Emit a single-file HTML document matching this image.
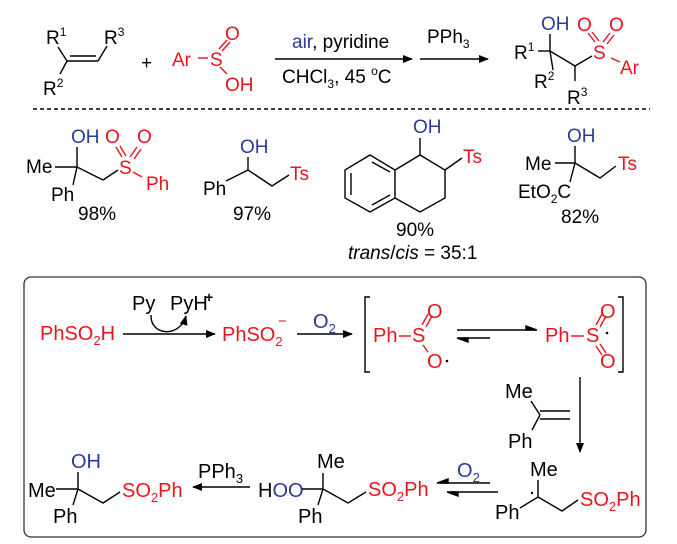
<!DOCTYPE html>
<html><head><meta charset="utf-8"><style>
html,body{margin:0;padding:0;background:#fff;width:677px;height:544px;overflow:hidden}
svg{display:block}
text{font-family:"Liberation Sans",Arial,sans-serif;font-size:19px;fill:#000}
.m text{font-size:20px}
.r{fill:#e8141e}.b{fill:#2b3a9c}
.s{font-size:12px}
.m .s{font-size:13px}
line,path,polyline{stroke:#000;stroke-width:1.4;fill:none}
.rl{stroke:#e8141e}
</style></head><body>
<svg width="677" height="544" viewBox="0 0 677 544" xmlns="http://www.w3.org/2000/svg">
<defs><marker id="ah" markerWidth="10" markerHeight="8" refX="9" refY="4" orient="auto" markerUnits="userSpaceOnUse"><path d="M0,0 L10,4 L0,8 z" style="fill:#000;stroke:none"/></marker></defs>

<!-- top reaction -->
<text x="46" y="44">R<tspan class="s" dy="-8">1</tspan></text>
<text x="104" y="44">R<tspan class="s" dy="-8">3</tspan></text>
<text x="43" y="95">R<tspan class="s" dy="-8">2</tspan></text>
<line x1="58" y1="47" x2="67" y2="61"/><line x1="67" y1="61" x2="98" y2="61"/><line x1="70" y1="56" x2="96" y2="56"/>
<line x1="98" y1="61" x2="107" y2="46"/><line x1="67" y1="61" x2="60" y2="74"/>
<text x="141" y="69">+</text>
<text class="r" x="172" y="66">Ar</text><line class="rl" x1="198" y1="58" x2="208" y2="58"/>
<text class="r" x="210" y="66">S</text>
<line class="rl" x1="219" y1="49" x2="227" y2="40"/><line class="rl" x1="222" y1="51" x2="230" y2="42"/>
<text class="r" x="225" y="40">O</text>
<line class="rl" x1="220" y1="67" x2="227" y2="74"/>
<text class="r" x="225" y="91">OH</text>
<line x1="275" y1="59" x2="412" y2="59" marker-end="url(#ah)"/>
<text x="292" y="48"><tspan class="b">air</tspan>, pyridine</text>
<text x="282" y="83">CHCl<tspan class="s" dy="5">3</tspan><tspan dy="-5">, 45 </tspan><tspan class="s" dy="-8">o</tspan><tspan dy="8">C</tspan></text>
<line x1="420" y1="59" x2="488" y2="59" marker-end="url(#ah)"/>
<text x="427" y="43">PPh<tspan class="s" dy="5">3</tspan></text>
<text class="b" x="541" y="30">OH</text>
<text class="r" x="577" y="31">O</text><text class="r" x="609" y="31">O</text>
<text x="514" y="59">R<tspan class="s" dy="-8">1</tspan></text>
<line x1="550" y1="34" x2="550" y2="51"/><line x1="538" y1="51" x2="550" y2="51"/>
<line x1="550" y1="51" x2="575" y2="66"/><line x1="575" y1="66" x2="592" y2="56"/>
<line x1="575" y1="66" x2="575" y2="81"/><line x1="550" y1="51" x2="553" y2="70"/>
<text class="r" x="593" y="59">S</text>
<line class="rl" x1="595" y1="42" x2="588" y2="33"/><line class="rl" x1="599" y1="41" x2="592" y2="32"/>
<line class="rl" x1="603" y1="42" x2="610" y2="33"/><line class="rl" x1="607" y1="44" x2="614" y2="35"/>
<line class="rl" x1="611" y1="58" x2="620" y2="62"/>
<text class="r" x="620" y="74">Ar</text>
<text x="534" y="88">R<tspan class="s" dy="-8">2</tspan></text>
<text x="567" y="104">R<tspan class="s" dy="-8">3</tspan></text>
<line x1="33" y1="109" x2="650" y2="109" stroke-dasharray="4,3"/>

<!-- examples -->
<text class="b" x="71" y="143">OH</text>
<text class="r" x="105" y="143">O</text><text class="r" x="137" y="143">O</text>
<text x="26" y="173">Me</text><text x="51" y="201">Ph</text>
<line x1="55" y1="167" x2="77" y2="167"/><line x1="77" y1="147" x2="77" y2="167"/><line x1="77" y1="167" x2="73" y2="185"/>
<line x1="77" y1="167" x2="103" y2="180"/><line x1="103" y1="180" x2="118" y2="170"/>
<text class="r" x="119" y="174">S</text>
<line class="rl" x1="122" y1="157" x2="116" y2="147"/><line class="rl" x1="126" y1="156" x2="120" y2="146"/>
<line class="rl" x1="130" y1="157" x2="137" y2="147"/><line class="rl" x1="134" y1="159" x2="141" y2="149"/>
<line class="rl" x1="133" y1="172" x2="142" y2="177"/>
<text class="r" x="146" y="190">Ph</text>
<text x="78" y="220">98%</text>

<text class="b" x="240" y="153">OH</text><text x="203" y="195">Ph</text>
<polyline points="226,181 248,170 272,186 289,175"/><line x1="248" y1="170" x2="248" y2="157"/>
<text class="r" x="290" y="180">Ts</text>
<text x="233" y="220">97%</text>

<text class="b" x="413" y="133">OH</text><text class="r" x="463" y="163">Ts</text>
<polygon points="370,155 395,170 395,198 370,212 345,198 345,170" style="fill:none;stroke:#000;stroke-width:1.4"/>
<line x1="351" y1="173" x2="351" y2="195"/><line x1="372" y1="162" x2="390" y2="172"/><line x1="372" y1="205" x2="390" y2="195"/>
<polyline points="395,170 420,155 445,170 445,198 420,212 395,198" style="fill:none"/>
<line x1="420" y1="155" x2="420" y2="138"/><line x1="445" y1="170" x2="462" y2="158"/>
<text x="396" y="236">90%</text>
<text x="348" y="259"><tspan font-style="italic">trans</tspan>/<tspan font-style="italic">cis</tspan> = 35:1</text>

<text class="b" x="567" y="142">OH</text>
<text x="525" y="170">Me</text><text class="r" x="618" y="170">Ts</text>
<line x1="555" y1="163" x2="575" y2="163"/><line x1="575" y1="146" x2="575" y2="163"/>
<polyline points="575,163 600,178 616,166"/><line x1="575" y1="163" x2="570" y2="182"/>
<text x="518" y="198">EtO<tspan class="s" dy="5">2</tspan><tspan dy="-5">C</tspan></text>
<text x="561" y="223">82%</text>

<!-- mechanism box -->
<rect x="24" y="277" width="622" height="260" rx="7" style="fill:none;stroke:#333;stroke-width:1.3"/>
<g class="m">
<text class="r" x="40" y="340">PhSO<tspan class="s" dy="5">2</tspan><tspan dy="-5">H</tspan></text>
<line x1="123" y1="334" x2="215" y2="334" marker-end="url(#ah)"/>
<text x="132" y="310">Py</text><text x="170" y="310">PyH</text><text x="205" y="302" style="font-size:14px;font-weight:bold">+</text>
<path d="M151,315 C150,336 180,338 186,316" marker-end="url(#ah)"/>
<text class="r" x="222" y="341">PhSO<tspan class="s" dy="5">2</tspan></text><text class="r" x="278" y="326" style="font-size:15px">−</text>
<line x1="297" y1="334" x2="352" y2="334" marker-end="url(#ah)"/>
<text class="b" x="313" y="328">O<tspan class="s" dy="5">2</tspan></text>
<polyline points="370,297 365,297 365,372 370,372"/>
<text class="r" x="373" y="342">Ph</text><line class="rl" x1="399" y1="336" x2="411" y2="336"/>
<text class="r" x="412" y="342">S</text>
<line class="rl" x1="422" y1="325" x2="428" y2="314"/><line class="rl" x1="426" y1="327" x2="432" y2="316"/>
<text class="r" x="427" y="318">O</text>
<line class="rl" x1="423" y1="345" x2="428" y2="352"/>
<text class="r" x="427" y="368">O</text><circle cx="447" cy="361" r="1.3" fill="#000"/>
<line x1="457" y1="330" x2="535" y2="330"/><path d="M537,330 L526,326 L526,330 z" style="fill:#000"/>
<line x1="460" y1="338" x2="490" y2="338"/><path d="M457,338 L468,342 L468,338 z" style="fill:#000"/>
<text class="r" x="545" y="342">Ph</text><line class="rl" x1="571" y1="336" x2="584" y2="336"/>
<text class="r" x="586" y="342">S</text><circle cx="607" cy="333" r="1.3" fill="#000"/>
<line class="rl" x1="596" y1="325" x2="602" y2="314"/><line class="rl" x1="600" y1="327" x2="606" y2="316"/>
<text class="r" x="600" y="318">O</text>
<line class="rl" x1="596" y1="346" x2="602" y2="355"/><line class="rl" x1="600" y1="344" x2="606" y2="353"/>
<text class="r" x="600" y="368">O</text>
<polyline points="618,297 623,297 623,372 618,372"/>
<line x1="580" y1="377" x2="580" y2="452" marker-end="url(#ah)"/>
<text x="505" y="398">Me</text><text x="508" y="448">Ph</text>
<line x1="531" y1="401" x2="540" y2="415"/><line x1="540" y1="415" x2="532" y2="430"/>
<line x1="540" y1="411" x2="570" y2="411"/><line x1="540" y1="419" x2="570" y2="419"/>

<text x="530" y="476">Me</text><text x="495" y="519">Ph</text>
<circle cx="532" cy="493" r="1.2" fill="#000"/>
<polyline points="538,480 538,497 520,508"/><polyline points="538,497 562,511 578,500"/>
<text class="r" x="580" y="506">SO<tspan class="s" dy="5">2</tspan><tspan dy="-5">Ph</tspan></text>
<line x1="440" y1="483" x2="490" y2="483"/><path d="M437,483 L448,479 L448,483 z" style="fill:#000"/>
<line x1="450" y1="492" x2="498" y2="492"/><path d="M447,492 L458,496 L458,492 z" style="fill:#000"/>
<text class="b" x="457" y="477">O<tspan class="s" dy="5">2</tspan></text>
<text x="258" y="497">H<tspan class="b">OO</tspan></text>
<text x="317" y="468">Me</text><text x="298" y="523">Ph</text>
<line x1="302" y1="489" x2="323" y2="489"/><polyline points="323,473 323,489 318,505"/>
<polyline points="323,489 348,503 366,492"/>
<text class="r" x="368" y="496">SO<tspan class="s" dy="5">2</tspan><tspan dy="-5">Ph</tspan></text>
<line x1="250" y1="487" x2="193" y2="487" marker-end="url(#ah)"/>
<text x="198" y="478">PPh<tspan class="s" dy="5">3</tspan></text>
<text class="b" x="71" y="468">OH</text>
<text x="28" y="497">Me</text><text x="53" y="523">Ph</text>
<line x1="56" y1="489" x2="78" y2="489"/><polyline points="78,472 78,489 73,505"/>
<polyline points="78,489 103,503 120,492"/>
<text class="r" x="122" y="497">SO<tspan class="s" dy="5">2</tspan><tspan dy="-5">Ph</tspan></text>
</g>
</svg>
</body></html>
